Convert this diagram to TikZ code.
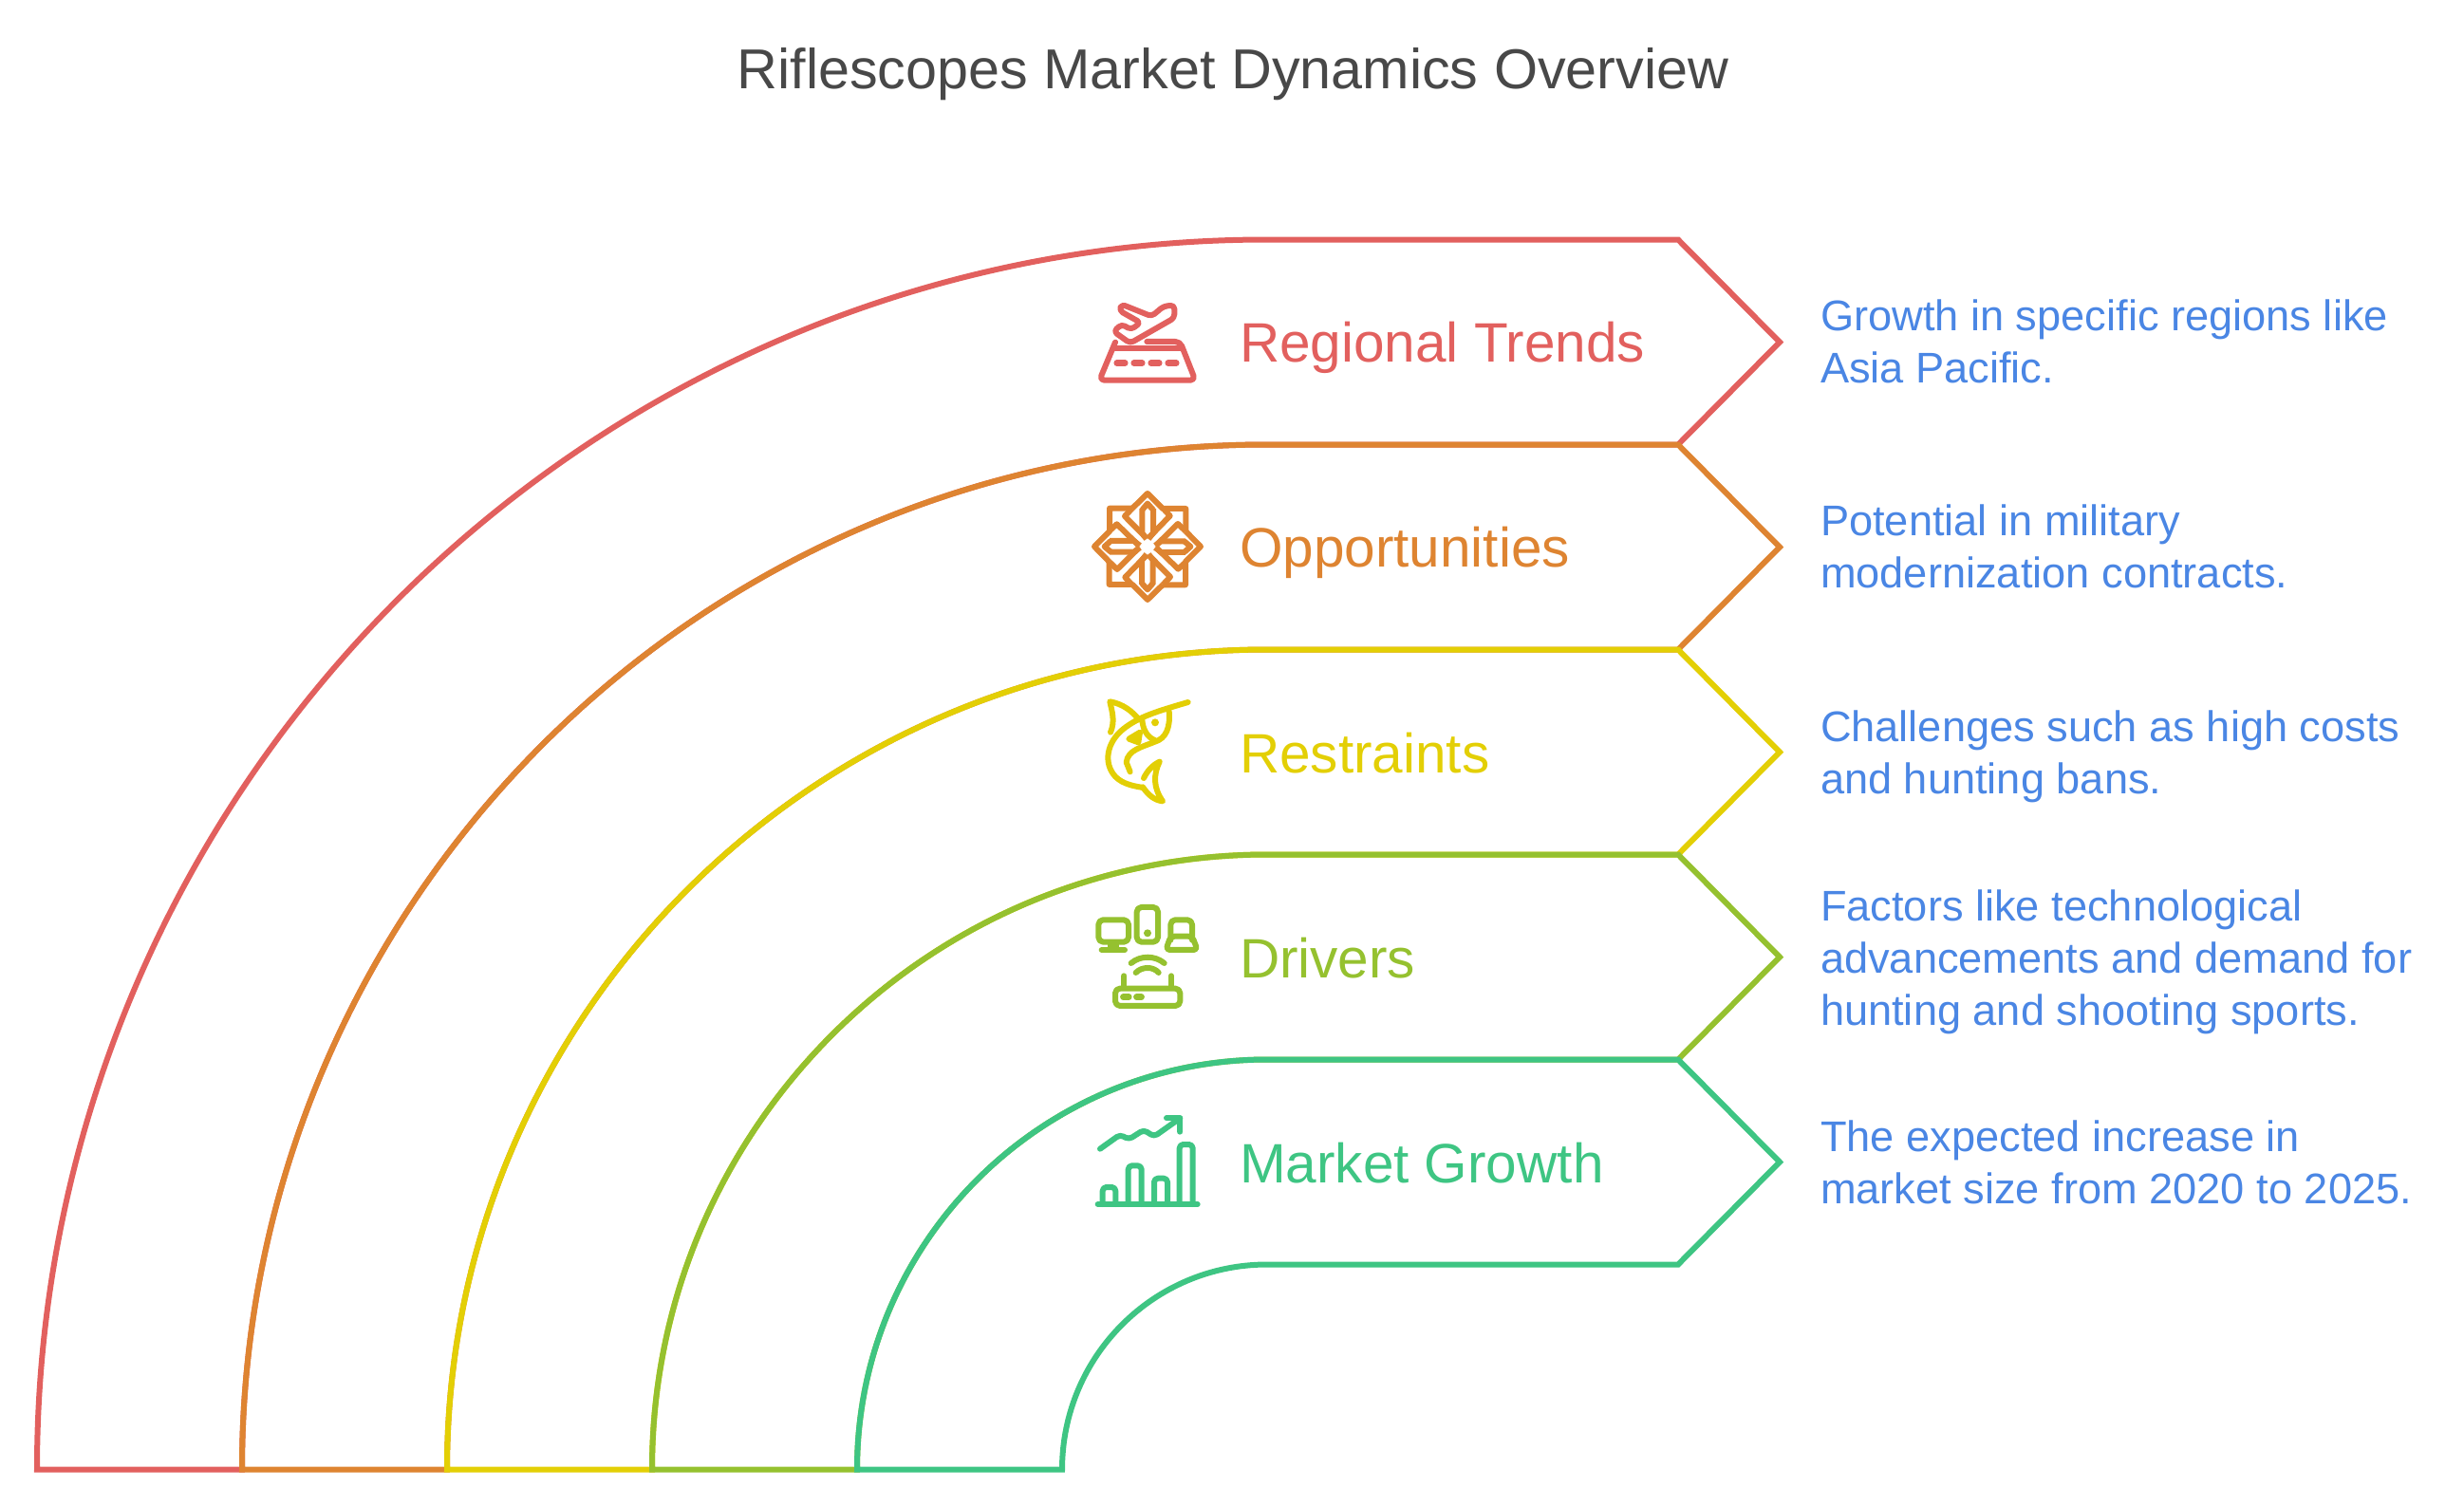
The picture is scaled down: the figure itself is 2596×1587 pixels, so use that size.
\documentclass[tikz,border=0pt]{standalone}
\usepackage{fontspec}
\setmainfont{Liberation Sans}
\definecolor{trendcol}{HTML}{E2605E}
\definecolor{oppcol}{HTML}{DE8431}
\definecolor{restcol}{HTML}{E3CF05}
\definecolor{drivecol}{HTML}{95C12F}
\definecolor{growcol}{HTML}{3EC583}
\definecolor{desccol}{HTML}{4A86E4}
\definecolor{titlecol}{HTML}{484848}

\begin{document}
\begin{tikzpicture}[
                x = 1pt, y = -1pt, % reference pixels
                bandline/.style = {line width = 6pt, line join = miter},
                iconline/.style = {line width = 6pt, line cap = round, line join = round}
            ]

            \tikzstyle{every node}=[inner sep = 0pt, outer sep = 0pt]
            \tikzstyle{head}=[font = \fontsize{58.5}{70}\selectfont, anchor = base west]
            \tikzstyle{desc}=[font = \fontsize{45.2}{55}\selectfont, text = desccol, align = left, anchor = west, text depth = 0pt]

            \useasboundingbox (0,0) rectangle (2596,1587);

            % bands, outermost first
            \foreach \col/\xl/\yt in {trendcol/39/252, oppcol/255/468, restcol/471/684,
                drivecol/687/900, growcol/903/1116} {
                \pgfmathsetmacro{\rad}{1335-\xl}
                \draw[bandline, \col] (\xl,1548.5) arc[start angle=180, end angle=270, radius=\rad]
                    -- (1768,\yt+0.5) -- (1875,\yt+108.5) -- (1768,\yt+216.5) -- (1335,\yt+216.5)
                    arc[start angle=270, end angle=180, radius=\rad-216] -- cycle;
            }

            \node (title) [font = \fontsize{59.3}{72}\selectfont, text = titlecol, anchor = base] at (1299,93)
                {Riflescopes Market Dynamics Overview};

            \node (trends) [head, text = trendcol] at (1306,381) {Regional Trends};
            \node (opps) [head, text = oppcol] at (1306,597) {Opportunities};
            \node (rests) [head, text = restcol] at (1306,814) {Restraints};
            \node (drives) [head, text = drivecol] at (1306,1030) {Drivers};
            \node (grows) [head, text = growcol] at (1306,1246) {Market Growth};

            \node (trendsdesc) [desc] at (1918,360) {Growth in specific regions like\\Asia Pacific.};
            \node (oppsdesc) [desc] at (1918,576) {Potential in military\\modernization contracts.};
            \node (restsdesc) [desc] at (1918,793) {Challenges such as high costs\\and hunting bans.};
            \node (drivesdesc) [desc] at (1918,1009) {Factors like technological\\advancements and demand for\\hunting and shooting sports.};
            \node (growsdesc) [desc] at (1918,1225) {The expected increase in\\market size from 2020 to 2025.};

            % plane and runway
            \begin{scope}[shift={(1120,290)}, x=0.3333pt, y=-0.3333pt, iconline, trendcol]
                \draw[rounded corners=4pt] (185,92) -- (280,130) -- (318,98) -- (352,95) -- (352,135)
                    -- (212,215) -- (160,178) -- (185,155) -- (215,172) -- (245,150) -- (178,112) -- cycle;
                \draw[rounded corners=5pt] (165,212) -- (115,332) -- (418,332) -- (370,210) -- (265,210);
                \draw (165,232) -- (372,232);
                \foreach \dx in {170,224,278,332} { \draw[line width=6.5pt] (\dx,278) -- (\dx+26,278); }
            \end{scope}

            % star
            \begin{scope}[shift={(1120,290)}, x=0.3333pt, y=-0.3333pt, iconline, oppcol, line cap=butt]
                \foreach \a in {0,90,180,270} {
                    \begin{scope}[rotate around={\a:(267,858)}]
                        \draw (218,738) -- (267,690) -- (315,738) -- (388,738) -- (388,810);
                        \draw (250,742) -- (267,722) -- (285,742);
                        \draw (250,738) -- (250,815) -- (264,834);
                        \draw (285,738) -- (285,815) -- (270,834);
                        \draw (218,738) -- (195,762) -- (262,830);
                        \draw (145,810) -- (170,787) -- (240,855);
                    \end{scope}
                }
            \end{scope}

            % fish
            \begin{scope}[shift={(1120,700)}, x=0.3333pt, y=-0.3333pt, iconline, restcol]
                \draw (395,120) .. controls (300,148) and (240,165) .. (190,205)
                    .. controls (140,245) and (125,310) .. (165,355) .. controls (190,380) and (225,385) .. (252,390);
                \draw (150,215) .. controls (165,180) and (155,150) .. (148,118)
                    .. controls (190,125) and (220,150) .. (240,175);
                \draw (250,175) .. controls (252,205) and (265,230) .. (290,240);
                \draw (335,148) .. controls (340,200) and (325,235) .. (290,245)
                    .. controls (250,262) and (205,270) .. (200,310) -- (212,340);
                \fill (291,184) circle (12);
                \draw (208,236) -- (243,215) -- (238,247) -- cycle;
                \draw (252,388) .. controls (270,415) and (290,430) .. (315,433)
                    .. controls (285,390) and (285,350) .. (305,308) .. controls (280,320) and (265,340) .. (255,360);
            \end{scope}

            % devices and router
            \begin{scope}[shift={(1120,700)}, x=0.3333pt, y=-0.3333pt, iconline, drivecol]
                \draw[rounded corners=5pt] (112,808) rectangle (207,878);
                \draw (150,882) -- (150,900) (168,882) -- (168,900) (122,903) -- (195,903);
                \draw[rounded corners=5pt] (233,768) rectangle (300,878);
                \fill (267,850) circle (12);
                \draw[rounded corners=5pt] (340,872) -- (340,808) -- (408,808) -- (408,872);
                \draw[rounded corners=4pt] (340,860) -- (325,903) -- (425,903) -- (408,860) -- cycle;
                \draw (215,945) .. controls (245,920) and (290,920) .. (320,945);
                \draw (230,975) .. controls (250,955) and (285,955) .. (302,975);
                \draw[rounded corners=5pt] (165,1025) rectangle (370,1080);
                \draw (193,985) -- (193,1020) (342,985) -- (342,1020);
                \draw[line width=6.5pt] (190,1052) -- (208,1052) (232,1052) -- (248,1052);
            \end{scope}

            % bar chart
            \begin{scope}[shift={(1120,1150)}, x=0.3333pt, y=-0.3333pt, iconline, growcol]
                \draw (110,357) -- (425,357);
                \draw[rounded corners=4pt] (125,357) -- (125,303) -- (166,303) -- (166,357);
                \draw[rounded corners=4pt] (206,357) -- (206,235) -- (248,235) -- (248,357);
                \draw[rounded corners=4pt] (288,357) -- (288,275) -- (330,275) -- (330,357);
                \draw[rounded corners=4pt] (368,357) -- (368,168) -- (410,168) -- (410,357);
                \draw[rounded corners=4pt] (117,182) -- (180,137) -- (208,152) -- (255,122) -- (288,143) -- (370,85);
                \draw (327,85) -- (370,85) -- (370,128);
            \end{scope}

        \end{tikzpicture}
\end{document}
